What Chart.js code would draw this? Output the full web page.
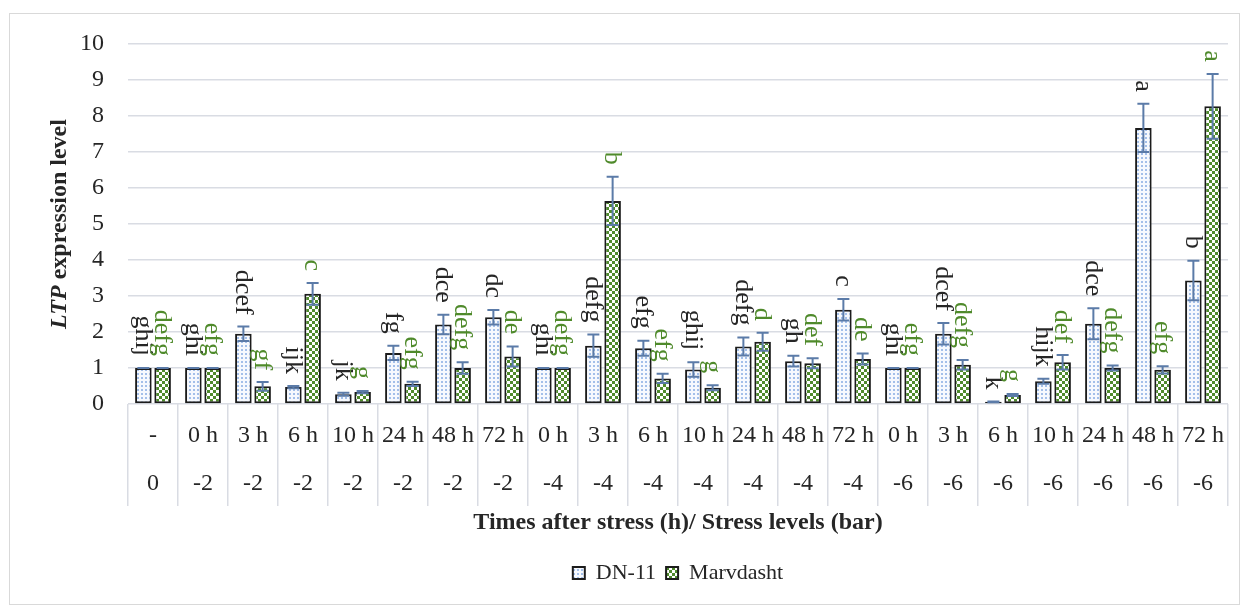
<!DOCTYPE html>
<html>
<head>
<meta charset="utf-8">
<title>LTP expression level</title>
<script src="https://cdn.jsdelivr.net/npm/chart.js@4/dist/chart.umd.min.js"></script>
<style>
  html, body { margin: 0; padding: 0; background: #ffffff; }
  #wrap { position: relative; width: 1247px; height: 614px; }
  #frame { position: absolute; left: 9px; top: 13px; width: 1231px; height: 592px;
           border: 1px solid #d9d9d9; box-sizing: border-box; }
  #chart { position: absolute; left: 0; top: 0; }
</style>
</head>
<body>
<div id="wrap">
  <div id="frame"></div>
  <canvas id="chart" width="1247" height="614"></canvas>
</div>
<script>
// Sampling times after stress and the stress level of each group
const times = ['-',
  '0 h', '3 h', '6 h', '10 h', '24 h', '48 h', '72 h',
  '0 h', '3 h', '6 h', '10 h', '24 h', '48 h', '72 h',
  '0 h', '3 h', '6 h', '10 h', '24 h', '48 h', '72 h'];
const levels = ['0',
  '-2', '-2', '-2', '-2', '-2', '-2', '-2',
  '-4', '-4', '-4', '-4', '-4', '-4', '-4',
  '-6', '-6', '-6', '-6', '-6', '-6', '-6'];

// Relative LTP expression, cultivar DN-11
const dn11 = [1.00,
  1.00, 1.95, 0.47, 0.27, 1.42, 2.21, 2.41,
  1.00, 1.62, 1.55, 0.96, 1.60, 1.19, 2.62,
  1.00, 1.95, 0.06, 0.63, 2.23, 7.67, 3.43];
const dn11Err = [0,
  0, 0.20, 0.03, 0.04, 0.20, 0.27, 0.20,
  0, 0.31, 0.21, 0.20, 0.25, 0.15, 0.30,
  0, 0.30, 0.01, 0.07, 0.43, 0.67, 0.55];
const dn11Groups = ['ghij',
  'ghi', 'dcef', 'ijk', 'jk', 'fg', 'dce', 'dc',
  'ghi', 'defg', 'efg', 'ghij', 'defg', 'gh', 'c',
  'ghi', 'dcef', 'k', 'hijk', 'dce', 'a', 'b'];

// Relative LTP expression, cultivar Marvdasht
const marvdasht = [1.00,
  1.00, 0.49, 3.06, 0.33, 0.56, 1.00, 1.32,
  1.00, 5.64, 0.71, 0.45, 1.73, 1.13, 1.25,
  1.00, 1.09, 0.25, 1.16, 1.00, 0.95, 8.27];
const marvdashtErr = [0,
  0, 0.12, 0.30, 0.03, 0.06, 0.16, 0.28,
  0, 0.67, 0.13, 0.07, 0.25, 0.14, 0.15,
  0, 0.13, 0.03, 0.20, 0.07, 0.10, 0.90];
const marvdashtGroups = ['defg',
  'efg', 'gf', 'c', 'g', 'efg', 'defg', 'de',
  'defg', 'b', 'efg', 'g', 'd', 'def', 'de',
  'efg', 'defg', 'g', 'def', 'defg', 'efg', 'a'];

const SERIF = '"Liberation Serif", "Times New Roman", Times, serif';
const TEXT = '#262626';
const GREEN_TEXT = '#4f8a2b';

// Fill patterns: dotted light blue and green checkerboard
function dottedFill() {
  const c = document.createElement('canvas');
  c.width = 4; c.height = 4;
  const g = c.getContext('2d');
  g.fillStyle = '#f6f9fe'; g.fillRect(0, 0, 4, 4);
  g.fillStyle = '#a3bfe9'; g.fillRect(1, 1, 2, 2);
  return g.createPattern(c, 'repeat');
}
function checkerFill() {
  const c = document.createElement('canvas');
  c.width = 6; c.height = 6;
  const g = c.getContext('2d');
  g.fillStyle = '#4f8a2c'; g.fillRect(0, 0, 6, 6);
  g.fillStyle = '#ffffff'; g.fillRect(0, 0, 3, 3); g.fillRect(3, 3, 3, 3);
  return g.createPattern(c, 'repeat');
}

// Standard-error whiskers
const errorBars = {
  id: 'errorBars',
  afterDatasetsDraw(chart) {
    const { ctx } = chart;
    const y = chart.scales.y;
    ctx.save();
    ctx.strokeStyle = '#5b7ba8';
    ctx.lineWidth = 2;
    chart.data.datasets.forEach((ds, di) => {
      chart.getDatasetMeta(di).data.forEach((bar, i) => {
        const v = ds.data[i], e = ds.errors[i];
        const yt = y.getPixelForValue(v + e), yb = y.getPixelForValue(v - e);
        ctx.beginPath();
        ctx.moveTo(bar.x, yt); ctx.lineTo(bar.x, yb);
        ctx.moveTo(bar.x - 6, yt); ctx.lineTo(bar.x + 6, yt);
        ctx.moveTo(bar.x - 6, yb); ctx.lineTo(bar.x + 6, yb);
        ctx.stroke();
      });
    });
    ctx.restore();
  }
};

// Significance group letters, written downwards above each whisker
const groupLetters = {
  id: 'groupLetters',
  afterDatasetsDraw(chart) {
    const { ctx } = chart;
    const y = chart.scales.y;
    ctx.save();
    ctx.font = '26px ' + SERIF;
    ctx.textAlign = 'right';
    ctx.textBaseline = 'middle';
    chart.data.datasets.forEach((ds, di) => {
      ctx.fillStyle = ds.letterColor;
      chart.getDatasetMeta(di).data.forEach((bar, i) => {
        const top = y.getPixelForValue(ds.data[i] + ds.errors[i]) - 12;
        ctx.save();
        ctx.translate(bar.x - 1, top);
        ctx.rotate(Math.PI / 2);
        ctx.fillText(ds.groups[i], 0, 0);
        ctx.restore();
      });
    });
    ctx.restore();
  }
};

// Y axis title with the gene name in italics
const yAxisTitle = {
  id: 'yAxisTitle',
  afterDraw(chart) {
    const { ctx, chartArea } = chart;
    const ys = chart.scales.y;
    const fItalic = 'italic bold 24px ' + SERIF;
    const fBold = 'bold 24px ' + SERIF;
    const a = 'LTP', b = ' expression level';
    ctx.save();
    ctx.translate(ys.left + 14, (chartArea.top + chartArea.bottom) / 2);
    ctx.rotate(-Math.PI / 2);
    ctx.font = fItalic; const wa = ctx.measureText(a).width;
    ctx.font = fBold; const wb = ctx.measureText(b).width;
    const x0 = -(wa + wb) / 2;
    ctx.fillStyle = TEXT;
    ctx.textAlign = 'left';
    ctx.textBaseline = 'middle';
    ctx.font = fItalic; ctx.fillText(a, x0, 0);
    ctx.font = fBold; ctx.fillText(b, x0 + wa, 0);
    ctx.restore();
  }
};

Chart.defaults.font.family = SERIF;
Chart.defaults.color = TEXT;

new Chart(document.getElementById('chart'), {
  type: 'bar',
  data: {
    labels: times.map((t, i) => [t, levels[i]]),
    datasets: [
      {
        label: 'DN-11',
        data: dn11,
        errors: dn11Err,
        groups: dn11Groups,
        letterColor: TEXT,
        backgroundColor: dottedFill(),
        borderColor: '#1c1c1c',
        borderWidth: 2,
        borderSkipped: false
      },
      {
        label: 'Marvdasht',
        data: marvdasht,
        errors: marvdashtErr,
        groups: marvdashtGroups,
        letterColor: GREEN_TEXT,
        backgroundColor: checkerFill(),
        borderColor: '#1c1c1c',
        borderWidth: 2,
        borderSkipped: false
      }
    ]
  },
  options: {
    responsive: false,
    animation: false,
    devicePixelRatio: 1,
    categoryPercentage: 0.77,
    barPercentage: 0.86,
    layout: { padding: { top: 44, left: 46, right: 19, bottom: 20 } },
    plugins: {
      legend: {
        position: 'bottom',
        fullSize: false,
        labels: {
          boxWidth: 12, boxHeight: 12,
          padding: 10,
          font: { family: SERIF, size: 22 },
          color: TEXT
        }
      },
      tooltip: { enabled: false }
    },
    scales: {
      y: {
        min: 0, max: 10,
        ticks: { stepSize: 1, padding: 24, font: { family: SERIF, size: 24 }, color: TEXT },
        grid: { color: '#d9dce3', lineWidth: 1.5, drawTicks: false },
        border: { display: false },
        afterFit(scale) { scale.width = 82; }
      },
      x: {
        grid: { display: true, offset: true, drawOnChartArea: false, drawTicks: true,
                tickLength: 102, color: '#d9dce3', lineWidth: 1.5 },
        border: { display: false },
        ticks: { padding: -94, autoSkip: false, maxRotation: 0,
                 font: { family: SERIF, size: 24, lineHeight: 2 }, color: TEXT },
        title: {
          display: true,
          text: 'Times after stress (h)/ Stress levels (bar)',
          font: { family: SERIF, size: 24, weight: 'bold' },
          color: TEXT,
          padding: { top: 0, bottom: 15 }
        },
        afterFit(scale) { scale.height = 148; }
      }
    }
  },
  plugins: [errorBars, groupLetters, yAxisTitle]
});
</script>
</body>
</html>
